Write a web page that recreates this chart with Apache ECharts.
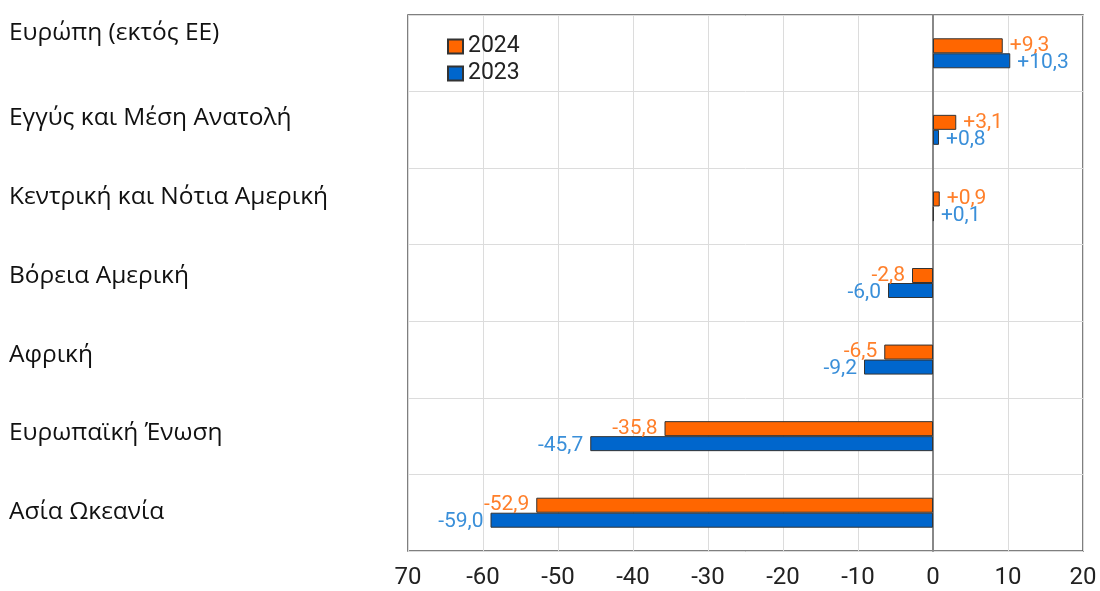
<!DOCTYPE html>
<html>
<head>
<meta charset="utf-8">
<script src="https://cdn.jsdelivr.net/npm/echarts@6/dist/echarts.min.js"></script>
<style>html,body{margin:0;padding:0;background:#fff;}#c{width:1100px;height:591px;}</style>
</head>
<body>
<div id="c"></div>
<script>
const categories = ['Ευρώπη (εκτός ΕΕ)', 'Εγγύς και Μέση Ανατολή', 'Κεντρική και Νότια Αμερική', 'Βόρεια Αμερική', 'Αφρική', 'Ευρωπαϊκή Ένωση', 'Ασία Ωκεανία'];
const values2024 = [9.3, 3.1, 0.9, -2.8, -6.5, -35.8, -52.9];
const values2023 = [10.3, 0.8, 0.1, -6.0, -9.2, -45.7, -59.0];
const seriesNames = ['2024', '2023'];
const xTicks = { min: -70, max: 20, interval: 10 };

function fmt(v) {
  const s = Math.abs(v).toFixed(1).replace('.', ',');
  return (v >= 0 ? '+' : '-') + s;
}
function mkData(arr) {
  return arr.map(v => ({
    value: v,
    label: { position: v >= 0 ? 'right' : 'left' }
  }));
}

const catFont = { fontFamily: 'Open Sans', fontSize: 24.5, color: '#111' };

const chart = echarts.init(document.getElementById('c'), null, { renderer: 'canvas' });
const option = {
  animation: false,
  backgroundColor: '#fff',
  textStyle: { fontFamily: 'Roboto' },
  legend: {
    data: seriesNames,
    orient: 'vertical',
    left: 447,
    top: 35,
    padding: 0,
    itemWidth: 15,
    itemHeight: 14,
    itemGap: 4,
    icon: 'rect',
    textStyle: { fontFamily: 'Roboto', fontSize: 23, color: '#222' }
  },
  grid: [
    { left: 408, right: 17, top: 15, bottom: 40, show: true, borderColor: '#555', borderWidth: 1.5, containLabel: false },
    { left: 10, width: 1, top: -4.4, bottom: 39.5, show: false, containLabel: false }
  ],
  xAxis: [
    {
      gridIndex: 0, type: 'value', min: xTicks.min, max: xTicks.max, interval: xTicks.interval,
      axisLine: { show: false }, axisTick: { show: false },
      splitLine: { show: true, lineStyle: { color: '#dcdcdc', width: 1 } },
      axisLabel: {
        fontFamily: 'Roboto', fontSize: 24, color: '#222', margin: 15,
        formatter: v => (v === xTicks.min ? String(Math.abs(v)) : String(v))
      }
    },
    { gridIndex: 1, type: 'value', show: false }
  ],
  yAxis: [
    {
      gridIndex: 0, type: 'category', data: categories, inverse: true,
      axisLine: { show: true, onZero: true, lineStyle: { color: '#888', width: 2 } },
      axisTick: { show: false }, axisLabel: { show: false },
      splitLine: { show: true, lineStyle: { color: '#dcdcdc', width: 1 } }
    },
    {
      gridIndex: 1, type: 'category', data: categories, inverse: true,
      axisLine: { show: false }, axisTick: { show: false }, splitLine: { show: false },
      axisLabel: {
        inside: true, margin: -1, align: 'left',
        fontFamily: catFont.fontFamily, fontSize: catFont.fontSize, color: catFont.color,
        formatter: (v, i) => (i === 0 ? '{up|' + v + '}' : '{n|' + v + '}'),
        rich: {
          up: Object.assign({ padding: [0, 0, 12, 0] }, catFont),
          n: Object.assign({}, catFont)
        }
      }
    }
  ],
  series: [
    {
      name: seriesNames[0], type: 'bar', xAxisIndex: 0, yAxisIndex: 0,
      data: mkData(values2024),
      barWidth: 15, barGap: '0%', barCategoryGap: '60%',
      itemStyle: { color: '#FF6600', borderColor: '#333', borderWidth: 1 },
      label: { show: true, distance: 7, fontFamily: 'Roboto', fontSize: 21, color: '#FF7F2A', formatter: p => fmt(p.value) }
    },
    {
      name: seriesNames[1], type: 'bar', xAxisIndex: 0, yAxisIndex: 0,
      data: mkData(values2023),
      barWidth: 15, barGap: '0%', barCategoryGap: '60%',
      itemStyle: { color: '#0066CC', borderColor: '#333', borderWidth: 1 },
      label: { show: true, distance: 7, offset: [0, 2], fontFamily: 'Roboto', fontSize: 21, color: '#3A8FD9', formatter: p => fmt(p.value) }
    }
  ]
};
chart.setOption(option);
</script>
</body>
</html>
